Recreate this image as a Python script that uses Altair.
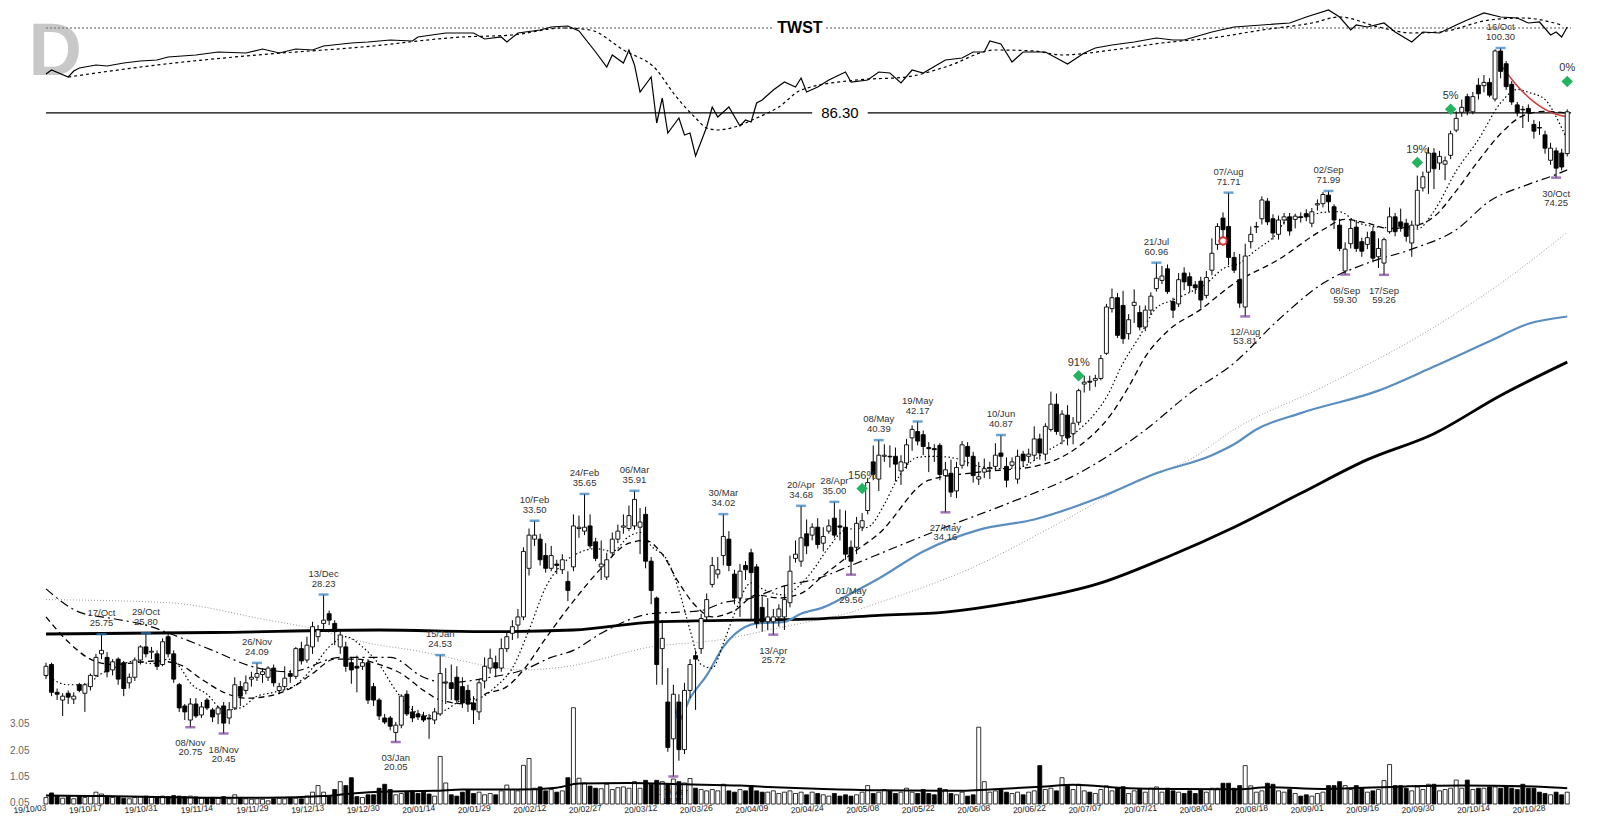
import altair as alt
import pandas as pd

# ---------------- daily candles (trading-day index 0 = 2019-10-03) ----------------
OPEN = [
    23.4, 24.0, 22.5, 22.1, 22.45, 22.15, 22.9, 22.45, 22.8, 23.4,
    24.6, 24.4, 23.7, 24.3, 24.1, 23.0, 23.3, 24.25, 25.0, 24.7,
    24.6, 24.0, 25.6, 24.6, 22.9, 21.8, 21.1, 21.9, 21.35, 22.1,
    21.6, 21.4, 21.8, 21.2, 21.7, 22.8, 22.6, 23.2, 23.3, 23.45,
    23.3, 23.8, 22.6, 22.8, 23.5, 23.35, 24.9, 24.25, 25.0, 25.6,
    26.4, 27.0, 26.4, 25.0, 25.0, 24.1, 23.9, 23.9, 24.1, 22.8,
    22.1, 21.2, 21.2, 20.5, 20.85, 22.4, 21.5, 21.4, 21.3, 21.2,
    21.1, 21.4, 23.0, 23.0, 23.3, 22.8, 22.6, 21.95, 21.5, 23.1,
    23.8, 24.1, 23.8, 24.9, 25.8, 26.3, 26.8, 30.0, 32.1, 32.1,
    30.9, 30.0, 30.3, 29.9, 29.1, 30.1, 32.9, 32.7, 33.1, 31.9,
    30.1, 29.4, 31.1, 32.1, 33.0, 32.9, 33.1, 33.0, 34.0, 30.5,
    28.0, 24.9, 22.0, 20.2, 22.0, 19.7, 22.6, 24.5, 24.9, 26.8,
    28.9, 29.6, 30.9, 32.1, 29.6, 28.0, 30.2, 31.1, 30.1, 27.4,
    26.5, 26.5, 26.8, 26.8, 27.7, 30.7, 30.5, 32.5, 32.4, 33.0,
    31.8, 32.7, 33.7, 33.1, 33.0, 31.5, 31.5, 33.0, 34.3, 38.4,
    36.9, 38.9, 38.9, 38.9, 37.6, 38.3, 40.6, 41.2, 40.9, 39.7,
    39.6, 39.9, 37.2, 37.4, 35.9, 38.1, 39.8, 38.9, 36.9, 37.5,
    37.8, 38.0, 39.2, 38.0, 38.1, 36.9, 39.1, 38.9, 39.0, 40.5,
    39.1, 41.4, 43.9, 40.8, 42.8, 41.0, 42.1, 46.0, 46.3, 46.4,
    46.6, 49.4, 54.8, 56.2, 55.2, 51.7, 55.2, 54.3, 52.5, 54.6,
    57.4, 58.5, 60.1, 55.7, 55.4, 59.5, 59.0, 57.9, 58.4, 56.5,
    59.9, 63.6, 67.6, 66.3, 61.7, 58.6, 55.0, 64.0, 66.2, 67.5,
    70.3, 67.5, 65.1, 67.3, 67.8, 67.4, 67.8, 68.3, 66.8, 69.7,
    69.9, 71.3, 69.4, 66.5, 59.8, 63.7, 66.2, 64.0, 63.6, 65.5,
    61.8, 60.9, 65.5, 67.8, 67.0, 66.8, 63.8, 66.5, 72.5, 75.2,
    78.6, 76.8, 76.6, 78.2, 82.9, 86.4, 89.6, 86.5, 92.0, 91.9,
    92.6, 89.1, 99.6, 96.7, 92.2, 87.9, 87.0, 87.2, 84.0, 83.4,
    82.0, 77.3, 79.0, 78.6, 78.5,
]
HIGH = [
    24.1, 24.1, 22.7, 22.45, 22.6, 22.5, 23.0, 23.0, 23.5, 24.6,
    25.75, 24.7, 24.3, 24.4, 24.2, 23.5, 24.4, 25.1, 25.8, 25.0,
    24.8, 25.5, 25.9, 24.8, 23.0, 21.9, 22.2, 22.2, 22.0, 22.2,
    21.7, 21.8, 22.0, 22.0, 23.3, 23.1, 23.4, 23.6, 24.09, 23.8,
    23.9, 24.0, 23.0, 23.9, 23.7, 25.0, 25.3, 25.6, 26.5, 26.3,
    28.23, 27.2, 26.6, 25.9, 25.3, 24.4, 24.5, 24.3, 24.3, 23.0,
    22.2, 21.4, 21.3, 21.0, 22.4, 22.6, 21.8, 21.6, 21.5, 21.4,
    21.7, 24.53, 23.8, 24.0, 23.9, 23.3, 22.9, 22.3, 23.2, 24.4,
    24.9, 24.5, 25.5, 25.9, 26.6, 27.3, 31.5, 32.9, 33.5, 32.5,
    31.8, 31.6, 30.6, 31.0, 29.8, 34.0, 33.9, 35.65, 34.0, 32.2,
    32.0, 31.1, 32.6, 33.2, 34.0, 34.7, 35.91, 34.5, 34.6, 30.8,
    28.1, 26.6, 23.8, 22.9, 22.4, 23.0, 24.3, 24.8, 27.0, 28.3,
    30.8, 30.8, 34.02, 32.7, 29.9, 30.3, 30.5, 31.4, 30.3, 28.1,
    28.0, 27.3, 27.6, 28.8, 30.9, 32.0, 34.68, 33.6, 33.3, 33.7,
    33.0, 33.6, 35.0, 34.4, 34.3, 32.0, 33.8, 34.1, 37.0, 39.9,
    40.39, 40.0, 39.9, 39.7, 39.0, 40.5, 41.8, 42.17, 41.3, 40.2,
    40.0, 40.1, 38.4, 38.6, 38.4, 40.3, 40.2, 39.3, 38.4, 38.7,
    38.4, 40.1, 40.87, 38.8, 38.8, 39.5, 39.4, 39.6, 41.7, 41.0,
    42.0, 45.2, 45.0, 43.3, 43.8, 42.6, 45.5, 46.9, 46.9, 47.0,
    49.2, 55.4, 57.4, 56.8, 57.1, 54.1, 57.3, 55.2, 55.2, 56.9,
    60.96, 60.5, 60.7, 56.2, 59.5, 60.3, 59.6, 58.4, 59.0, 59.8,
    64.5, 66.8, 68.5, 71.71, 62.5, 62.2, 63.7, 66.3, 67.0, 71.1,
    70.8, 68.2, 68.0, 68.4, 68.4, 68.3, 68.5, 69.0, 69.2, 70.6,
    71.8, 71.99, 69.8, 67.5, 63.9, 67.4, 67.3, 64.6, 65.5, 66.2,
    64.5, 64.6, 69.3, 68.4, 69.1, 67.5, 67.2, 74.6, 75.3, 79.7,
    79.5, 79.0, 78.0, 82.8, 86.6, 89.0, 90.2, 90.6, 93.5, 94.2,
    93.5, 100.0, 100.3, 97.3, 92.9, 88.5, 87.7, 88.0, 84.9, 84.6,
    82.8, 80.5, 79.6, 79.4, 87.0,
]
LOW = [
    23.2, 22.3, 22.1, 21.3, 21.9, 21.9, 22.5, 21.5, 22.6, 23.3,
    24.3, 23.3, 23.4, 22.9, 22.3, 22.7, 23.1, 24.0, 24.4, 24.3,
    23.7, 23.9, 24.4, 23.0, 21.5, 21.1, 20.75, 21.2, 21.2, 21.6,
    21.0, 20.9, 20.45, 20.9, 21.6, 21.8, 22.4, 22.8, 23.1, 23.0,
    23.1, 22.8, 22.4, 22.6, 23.0, 23.2, 24.0, 24.1, 24.6, 25.3,
    25.9, 26.3, 25.1, 24.6, 23.6, 22.95, 22.5, 23.7, 21.9, 21.8,
    21.1, 20.9, 20.6, 20.05, 20.7, 21.3, 21.0, 21.1, 21.0, 20.2,
    20.9, 21.3, 21.9, 22.1, 21.9, 21.7, 21.5, 20.9, 21.1, 22.7,
    23.5, 23.3, 23.6, 24.7, 25.4, 25.5, 26.6, 29.5, 31.6, 30.2,
    29.7, 29.8, 29.6, 29.6, 27.8, 29.8, 32.2, 32.4, 31.4, 30.5,
    29.2, 29.2, 30.8, 31.8, 32.5, 32.7, 32.8, 31.0, 30.0, 27.6,
    22.9, 22.9, 19.6, 18.5, 19.2, 19.5, 22.2, 21.6, 24.6, 26.5,
    28.7, 29.3, 30.2, 29.8, 27.6, 26.8, 29.2, 26.6, 26.1, 25.9,
    26.0, 25.72, 26.2, 26.0, 27.4, 30.4, 30.1, 31.0, 32.0, 31.4,
    31.2, 32.5, 32.2, 32.0, 30.6, 29.56, 31.0, 32.7, 34.0, 36.8,
    35.9, 38.4, 37.9, 36.7, 36.4, 37.8, 39.4, 39.9, 39.0, 37.5,
    38.4, 36.8, 34.16, 35.4, 35.3, 37.8, 38.0, 36.6, 36.4, 37.0,
    36.9, 37.6, 37.8, 36.2, 37.9, 36.5, 38.0, 38.3, 38.5, 38.6,
    38.5, 41.2, 40.9, 40.0, 39.9, 40.0, 41.8, 45.1, 45.3, 45.7,
    46.4, 49.2, 54.3, 51.2, 50.5, 51.0, 53.0, 52.1, 52.0, 54.0,
    57.0, 58.0, 56.7, 53.6, 55.0, 57.2, 56.9, 56.7, 54.8, 56.1,
    59.2, 62.8, 64.0, 60.6, 59.5, 54.9, 53.81, 63.0, 65.3, 66.6,
    66.5, 64.3, 64.3, 66.6, 64.9, 66.0, 66.9, 67.1, 66.2, 68.8,
    69.3, 68.6, 65.9, 62.6, 59.3, 63.0, 62.5, 61.8, 62.9, 61.0,
    60.2, 59.26, 65.2, 64.8, 65.5, 64.0, 61.8, 66.0, 71.9, 71.5,
    72.3, 75.6, 73.8, 77.5, 82.5, 85.5, 85.8, 86.0, 89.0, 90.5,
    89.5, 88.6, 93.5, 91.0, 87.9, 85.6, 83.3, 84.5, 81.3, 82.0,
    78.5, 76.5, 74.25, 75.5, 78.0,
]
CLOSE = [
    23.9, 22.5, 22.4, 22.3, 22.25, 22.3, 22.6, 22.9, 23.4, 24.4,
    24.8, 23.6, 24.15, 23.2, 22.7, 23.3, 24.25, 25.0, 24.6, 24.75,
    23.9, 25.3, 24.6, 23.2, 21.7, 21.5, 21.9, 21.3, 21.75, 21.7,
    21.25, 21.7, 20.95, 21.6, 22.9, 22.3, 23.0, 23.3, 23.5, 23.6,
    23.8, 23.0, 22.8, 23.25, 23.35, 24.9, 24.2, 25.1, 26.2, 26.0,
    26.6, 26.6, 25.9, 25.7, 23.9, 23.7, 23.8, 24.1, 22.1, 22.1,
    21.3, 21.0, 20.8, 20.85, 22.3, 21.4, 21.2, 21.25, 21.1, 21.15,
    21.5, 23.5, 23.05, 22.7, 22.1, 21.95, 21.9, 21.6, 23.0, 23.9,
    24.35, 23.8, 24.9, 25.6, 26.2, 26.8, 31.2, 32.4, 32.4, 30.6,
    30.0, 30.9, 30.2, 30.6, 28.5, 33.1, 33.0, 33.0, 31.6, 30.7,
    30.3, 30.6, 32.1, 32.7, 33.1, 33.9, 35.2, 33.4, 30.5, 28.5,
    24.0, 25.5, 19.8, 22.4, 19.7, 22.6, 24.0, 24.3, 26.7, 27.9,
    30.2, 29.9, 32.3, 30.2, 28.0, 29.8, 29.9, 29.7, 26.4, 26.5,
    26.8, 26.8, 27.3, 27.9, 29.8, 31.0, 32.2, 31.6, 33.0, 31.7,
    32.3, 33.1, 32.4, 33.0, 31.0, 30.5, 33.3, 33.5, 36.6, 37.3,
    39.0, 39.0, 38.85, 38.2, 38.4, 39.95, 41.4, 40.3, 39.8, 39.6,
    39.5, 37.3, 37.7, 35.8, 37.9, 39.95, 38.9, 37.2, 37.1, 37.8,
    37.9, 39.0, 38.9, 36.8, 38.4, 38.9, 38.5, 39.1, 40.5, 39.2,
    41.7, 43.9, 41.2, 42.9, 40.6, 42.0, 45.3, 46.2, 46.2, 46.6,
    48.8, 55.0, 56.2, 51.5, 51.1, 53.4, 55.6, 52.5, 54.6, 56.4,
    58.8, 59.1, 57.0, 54.6, 58.6, 58.3, 57.8, 57.5, 55.9, 58.9,
    62.3, 66.3, 65.8, 61.7, 59.9, 55.5, 61.9, 65.1, 66.3, 70.5,
    67.0, 65.3, 67.3, 67.8, 65.6, 67.9, 67.7, 67.8, 68.6, 69.9,
    71.4, 70.2, 67.3, 63.0, 62.9, 66.0, 63.0, 62.6, 64.6, 61.6,
    63.0, 64.3, 67.8, 65.5, 66.3, 64.8, 66.5, 72.1, 74.4, 78.6,
    75.8, 78.0, 77.2, 82.2, 85.2, 87.4, 86.6, 89.6, 90.2, 92.6,
    89.9, 99.6, 95.0, 91.7, 88.5, 86.3, 86.9, 86.3, 82.7, 83.3,
    79.5, 79.5, 75.9, 76.1, 86.5,
]
# volume, millions of shares
VOLUME = [
    0.25, 0.42, 0.3, 0.22, 0.3, 0.2, 0.32, 0.25, 0.3, 0.45,
    0.38, 0.3, 0.25, 0.28, 0.22, 0.2, 0.25, 0.28, 0.3, 0.25,
    0.25, 0.3, 0.28, 0.32, 0.3, 0.28, 0.3, 0.27, 0.22, 0.22,
    0.25, 0.22, 0.28, 0.2, 0.35, 0.22, 0.2, 0.18, 0.2, 0.18,
    0.12, 0.2, 0.22, 0.2, 0.25, 0.22, 0.2, 0.3, 0.45, 0.7,
    0.45, 0.3, 0.55, 0.85, 0.7, 1.0, 0.28, 0.25, 0.35, 0.35,
    0.6, 0.75, 0.55, 0.35, 0.4, 0.45, 0.5, 0.4, 0.45, 0.38,
    0.3, 1.81, 0.8, 0.35, 0.3, 0.45, 0.55, 0.4, 0.45, 0.35,
    0.4, 0.35, 0.5, 0.72, 0.55, 0.5, 1.47, 1.73, 0.6, 0.65,
    0.5, 0.55, 0.45, 0.5, 1.0, 3.66, 0.98, 0.8, 0.68, 0.6,
    0.58, 0.75, 0.55, 0.62, 0.65, 0.6, 0.85, 0.6, 0.9, 0.75,
    0.9, 0.85, 0.75, 0.95, 0.85, 0.8, 0.97, 0.6, 0.55, 0.5,
    0.55, 0.5, 0.75, 0.5, 0.45, 0.55, 0.5, 0.7, 0.5, 0.45,
    0.45, 0.5, 0.4, 0.45, 0.5, 0.4, 0.45, 0.35, 0.45, 0.4,
    0.35, 0.3, 0.4, 0.3, 0.35, 0.3, 0.35, 0.45, 0.7, 0.4,
    0.45, 0.55, 0.5, 0.4, 0.45, 0.6, 0.45, 0.4, 0.55, 0.4,
    0.35, 0.6, 0.55, 0.4, 0.35, 0.45, 0.3, 0.35, 2.92, 0.85,
    0.45, 0.5, 0.55, 0.45, 0.4, 0.45, 0.35, 0.45, 0.5, 1.46,
    0.55, 0.6, 0.5, 1.0, 0.7, 0.55, 0.75, 0.5, 0.45, 0.4,
    0.55, 0.69, 0.5, 0.6, 0.66, 0.4, 0.5, 0.55, 0.45, 0.6,
    0.65, 0.45, 0.6, 0.5, 0.45, 0.4, 0.5, 0.4, 0.55, 0.45,
    0.6, 0.6, 0.79, 0.79, 0.6, 0.7, 1.46, 0.69, 0.45, 0.5,
    0.79, 0.75, 0.5, 0.45, 0.55, 0.4, 0.3, 0.35, 0.3, 0.4,
    0.45, 0.7, 0.7, 0.85, 0.7, 0.55, 0.7, 0.6, 0.45, 0.5,
    0.55, 0.89, 1.5, 0.7, 0.7, 0.6, 0.5, 0.65, 0.55, 0.75,
    0.75, 0.5, 0.55, 0.6, 0.91, 0.6, 0.91, 0.55, 0.6, 0.6,
    0.65, 0.65, 0.6, 0.65, 0.6, 0.55, 0.75, 0.6, 0.6, 0.45,
    0.4, 0.35, 0.45, 0.35, 0.45,
]

TICK_LABELS = [
    "19/10/03", "19/10/17", "19/10/31", "19/11/14", "19/11/29", "19/12/13", "19/12/30",
    "20/01/14", "20/01/29", "20/02/12", "20/02/27", "20/03/12", "20/03/26", "20/04/09",
    "20/04/24", "20/05/08", "20/05/22", "20/06/08", "20/06/22", "20/07/07", "20/07/21",
    "20/08/04", "20/08/18", "20/09/01", "20/09/16", "20/09/30", "20/10/14", "20/10/28",
]

# ---------------- moving averages (index, value) ----------------
MA10_I = [0, 4, 7, 10, 13, 16, 19, 22, 24, 26, 29, 32, 35, 38, 41, 45, 48, 51, 54, 57,
          60, 63, 66, 69, 72, 75, 78, 81, 84, 87, 90, 93, 96, 99, 102, 105, 107, 109, 112, 114,
          116, 118, 120, 122, 124, 127, 129, 133, 135, 138, 141, 144, 148, 151, 153, 157, 160, 164, 168, 172,
          176, 180, 183, 186, 189, 191, 194, 197, 200, 203, 206, 209, 212, 215, 218, 221, 224, 227, 230, 233,
          236, 240, 244, 247, 250, 254, 258, 262, 265, 267, 270, 272, 274]
MA10_V = [23.4, 22.9, 22.9, 23.5, 23.9, 24.2, 24.05, 24.3, 23.9, 23.0, 22.4, 21.6, 21.7, 22.3, 22.5, 22.9, 23.8, 25.0, 25.6, 25.0,
          24.0, 22.6, 21.6, 21.3, 21.6, 22.1, 22.2, 22.8, 23.8, 26.0, 28.7, 30.3, 31.1, 31.4, 31.2, 32.3, 32.6, 31.6, 30.5, 28.5,
          26.0, 24.0, 23.8, 25.2, 27.0, 29.0, 28.6, 28.2, 28.6, 29.8, 31.5, 32.8, 33.0, 34.8, 36.6, 38.8, 38.9, 38.7, 38.0, 37.8,
          38.0, 39.3, 40.2, 41.35, 43.0, 44.6, 48.3, 51.4, 54.9, 55.9, 56.9, 58.1, 60.1, 60.9, 62.8, 64.6, 67.6, 67.8, 68.5, 68.6,
          67.0, 66.2, 66.0, 65.9, 68.7, 75.4, 81.1, 88.3, 91.1, 90.5, 89.0, 85.5, 81.0]
MA21_I = [0, 4, 8, 12, 16, 20, 24, 28, 32, 36, 40, 44, 48, 52, 56, 60, 64, 68, 71, 76,
          79, 83, 86, 90, 95, 100, 105, 108, 111, 114, 117, 120, 124, 128, 132, 136, 140, 145, 150, 159,
          168, 178, 186, 192, 195, 198, 202, 208, 214, 222, 230, 234, 238, 242, 246, 250, 254, 258, 262, 266,
          270, 274]
MA21_V = [26.8, 25.3, 24.3, 24.0, 24.1, 24.2, 24.0, 23.2, 22.5, 22.2, 22.3, 22.7, 23.5, 24.3, 24.3, 24.0, 23.5, 22.6, 22.1, 21.9,
          22.4, 22.8, 23.7, 25.5, 27.8, 30.0, 31.8, 32.0, 31.0, 29.0, 27.5, 26.8, 27.2, 28.2, 28.0, 28.3, 29.5, 31.0, 32.5, 36.8,
          37.5, 38.0, 39.8, 43.0, 45.7, 49.0, 52.0, 54.7, 58.1, 61.4, 65.8, 67.4, 66.8, 66.0, 66.3, 67.8, 72.0, 77.2, 82.2, 85.7,
          86.6, 86.2]
MA50_I = [0, 6, 12, 18, 23, 30, 37, 44, 53, 62, 68, 72, 80, 86, 91, 95, 100, 109, 114, 118,
          122, 127, 133, 139, 145, 153, 162, 174, 186, 198, 206, 214, 222, 230, 238, 246, 254, 260, 267, 272, 274]
MA50_V = [28.6, 27.1, 26.7, 26.3, 25.7, 24.8, 23.9, 23.6, 24.4, 24.4, 23.3, 23.0, 23.3, 23.7, 24.4, 24.8, 25.8, 27.0, 27.1, 27.2,
          27.7, 28.0, 28.8, 29.3, 30.2, 31.5, 33.0, 35.0, 37.4, 41.35, 45.0, 48.3, 53.4, 58.1, 60.9, 62.9, 65.8, 70.3, 73.1, 74.8, 75.6]
MA150_I = [0, 22, 40, 48, 57, 68, 80, 86, 94, 109, 121, 133, 145, 150, 166, 182, 198, 206, 214, 230, 246, 262, 274]
MA150_V = [27.9, 27.7, 26.6, 26.1, 25.3, 24.7, 23.9, 23.7, 23.9, 25.0, 25.4, 26.2, 27.1, 27.7, 29.9, 33.2, 37.1, 38.6, 41.4, 45.7, 50.9, 58.1, 65.4]
BLUE_I = [113, 114, 116, 119, 122, 126, 128, 133, 136, 140, 145, 150, 158, 168, 178, 190, 200, 210, 214, 218, 226, 240, 250, 260, 267, 274]
BLUE_V = [22.2, 21.1, 22.2, 23.4, 25.0, 26.2, 26.4, 26.5, 27.0, 27.4, 28.3, 29.3, 31.2, 32.8, 33.6, 35.4, 37.4, 39.0, 40.0, 41.4, 43.0, 45.3, 47.9, 50.8, 52.9, 53.8]
MA200_I = [0, 30, 60, 80, 95, 110, 125, 140, 150, 162, 174, 190, 202, 214, 226, 238, 250, 262, 274]
MA200_V = [25.76, 25.85, 26.0, 25.9, 26.0, 26.5, 26.6, 26.7, 26.9, 27.1, 27.7, 29.0, 30.8, 33.0, 35.7, 38.6, 41.0, 44.8, 48.4]
RED_I = [262, 264, 266, 268, 270, 272, 274]
RED_V = [96.5, 93.3, 90.6, 88.5, 87.0, 86.0, 85.5]
VMA_I = [0, 10, 20, 30, 40, 50, 55, 60, 70, 75, 85, 92, 96, 105, 115, 125, 130, 140, 150, 165,
         170, 180, 185, 195, 205, 215, 220, 230, 245, 255, 270, 274]
VMA_V = [0.32, 0.30, 0.27, 0.24, 0.24, 0.30, 0.40, 0.47, 0.50, 0.55, 0.55, 0.62, 0.78, 0.80, 0.75, 0.70, 0.65, 0.57, 0.52, 0.50,
         0.55, 0.67, 0.73, 0.60, 0.57, 0.56, 0.64, 0.57, 0.67, 0.70, 0.65, 0.60]

# ---------------- relative-strength line (top panel) ----------------
RS_I = [0, 1, 4, 5, 6, 9, 11, 14, 17, 20, 22, 27, 31, 36, 39, 42, 45, 48, 50, 55,
        58, 62, 66, 67, 72, 77, 79, 82, 83, 85, 89, 91, 94, 96, 99, 101, 102, 104, 105, 106,
        107, 109, 110, 111, 112, 114, 115, 116, 117, 119, 120, 121, 123, 125, 126, 127, 128, 129, 131, 133,
        135, 136, 137, 139, 141, 144, 145, 148, 150, 152, 154, 156, 158, 162, 165, 167, 169, 170, 172, 174,
        176, 180, 182, 184, 187, 189, 192, 196, 200, 203, 205, 210, 214, 219, 224, 227, 231, 233, 235, 236,
        238, 241, 243, 246, 248, 251, 254, 256, 259, 262, 265, 267, 269, 271, 272, 273, 274]
RS_V = [0.816, 0.832, 0.804, 0.828, 0.84, 0.852, 0.848, 0.86, 0.868, 0.872, 0.884, 0.892, 0.904, 0.9, 0.916, 0.9, 0.916, 0.912, 0.928, 0.94,
        0.944, 0.952, 0.948, 0.964, 0.98, 0.98, 0.956, 0.964, 0.944, 0.98, 0.992, 1.004, 1.008, 0.988, 0.904, 0.844, 0.892, 0.86, 0.912, 0.852,
        0.744, 0.804, 0.62, 0.72, 0.58, 0.64, 0.572, 0.58, 0.488, 0.604, 0.684, 0.644, 0.684, 0.608, 0.632, 0.624, 0.7, 0.712, 0.752, 0.784,
        0.764, 0.8, 0.744, 0.764, 0.792, 0.824, 0.784, 0.792, 0.824, 0.82, 0.78, 0.832, 0.82, 0.872, 0.88, 0.904, 0.904, 0.948, 0.936, 0.864,
        0.904, 0.904, 0.88, 0.856, 0.9, 0.92, 0.932, 0.944, 0.96, 0.952, 0.952, 0.984, 1.004, 1.012, 1.02, 1.044, 1.072, 1.044, 0.992, 1.012,
        1.004, 1.02, 0.984, 0.944, 0.984, 0.98, 1.012, 1.032, 1.06, 1.044, 1.04, 1.02, 1.024, 0.972, 0.984, 0.964, 1.004]
RSMA_I = [4, 20, 38, 57, 75, 84, 93, 98, 104, 110, 113, 117, 119, 121, 124, 128, 132, 136, 146, 155,
          162, 171, 178, 183, 192, 201, 210, 219, 228, 233, 240, 246, 251, 260, 266, 273]
RSMA_V = [0.804, 0.852, 0.892, 0.924, 0.964, 0.972, 1.0, 0.992, 0.912, 0.832, 0.74, 0.64, 0.6, 0.592, 0.604, 0.64, 0.684, 0.752, 0.792, 0.804,
          0.844, 0.912, 0.908, 0.892, 0.912, 0.94, 0.96, 0.992, 1.02, 1.044, 1.004, 0.98, 0.984, 1.032, 1.04, 1.012]

# ---------------- annotations ----------------
HI_I = [10, 18, 38, 50, 71, 88, 97, 106, 122, 136, 142, 150, 157, 172, 200, 213, 231, 262]
HI_P = [25.75, 25.80, 24.09, 28.23, 24.53, 33.50, 35.65, 35.91, 34.02, 34.68, 35.00, 40.39, 42.17, 40.87, 60.96, 71.71, 71.99, 100.30]
HI_D = ["17/Oct", "29/Oct", "26/Nov", "13/Dec", "15/Jan", "10/Feb", "24/Feb", "06/Mar", "30/Mar", "20/Apr", "28/Apr",
        "08/May", "19/May", "10/Jun", "21/Jul", "07/Aug", "02/Sep", "16/Oct"]
LO_I = [26, 32, 63, 113, 131, 145, 162, 216, 234, 241, 272]
LO_P = [20.75, 20.45, 20.05, 18.51, 25.72, 29.56, 34.16, 53.81, 59.30, 59.26, 74.25]
LO_D = ["08/Nov", "18/Nov", "03/Jan", "17/Mar", "13/Apr", "01/May", "27/May", "12/Aug", "08/Sep", "17/Sep", "30/Oct"]
DI_I = [147, 186, 247, 253, 274]
DI_P = [36.1, 46.9, 76.9, 87.0, 92.8]
DI_T = ["156%", "91%", "19%", "5%", "0%"]
LEVEL = 86.30
CIRCLE_I = [212]
CIRCLE_P = [64.1]

# ---------------- build ----------------
N = len(CLOSE)
bars = pd.DataFrame({"i": list(range(N)), "open": OPEN, "high": HIGH, "low": LOW,
                     "close": CLOSE, "vol": VOLUME})
bars["v0"] = 0.0

W, H = 1549, 796
FONT = "Liberation Sans"
XS = alt.Scale(domain=[-0.9, 276.3], nice=False, zero=False)
lab_js = "[" + ",".join("'%s'" % s for s in TICK_LABELS) + "]"
XAX = alt.Axis(values=list(range(0, 271, 10)), labelExpr=lab_js + "[round(datum.value/10)]",
               title=None, domain=False, ticks=False, grid=False, labelAngle=-5,
               labelAlign="right", labelBaseline="middle", labelPadding=3, labelFontSize=8.5,
               labelColor="#222", labelFont=FONT, labelOverlap=False, labelBound=False,
               labelFlush=False)
PS = alt.Scale(type="log", domain=[17.365, 110.05], nice=False, zero=False)
VS = alt.Scale(domain=[0, 30.27], nice=False, zero=False)
RSS = alt.Scale(domain=[-2.104, 1.08], nice=False, zero=False)
VAX = alt.Axis(values=[0.05, 1.05, 2.05, 3.05], format=".2f", orient="left", title=None,
               domain=False, ticks=False, tickSize=0, grid=False, labelPadding=7,
               labelFontSize=10, labelColor="#666", labelFont=FONT, minExtent=28, maxExtent=28)


def xe():
    return alt.X("i:Q", scale=XS, axis=XAX)


def yp(f):
    return alt.Y(f + ":Q", scale=PS, axis=None)


def yr(f):
    return alt.Y(f + ":Q", scale=RSS, axis=None)


def ser(I, V):
    return pd.DataFrame({"i": I, "v": V})


def pline(I, V, **kw):
    return alt.Chart(ser(I, V)).mark_line(**kw).encode(x=xe(), y=yp("v"))


UPFILL = alt.condition("datum.close >= datum.open", alt.value("white"), alt.value("black"))

layers = []

# big "D"
layers.append(alt.Chart(pd.DataFrame({"i": [-3.15], "v": [0.812]})).mark_text(
    text="D", fontSize=74, fontWeight="bold", font=FONT, color="#c8c8c8",
    align="left", baseline="alphabetic").encode(x=xe(), y=yr("v")))

# moving averages
layers.append(pline(MA150_I, MA150_V, color="#9a9a9a", strokeWidth=1, strokeDash=[1, 2], interpolate="monotone"))
layers.append(pline(MA200_I, MA200_V, color="black", strokeWidth=2.8, interpolate="monotone"))
layers.append(pline(BLUE_I, BLUE_V, color="#5a8ec0", strokeWidth=2.2, interpolate="monotone"))
layers.append(pline(MA50_I, MA50_V, color="black", strokeWidth=1.2, strokeDash=[9, 4, 2, 4], interpolate="monotone"))
layers.append(pline(MA21_I, MA21_V, color="black", strokeWidth=1.3, strokeDash=[6, 4], interpolate="monotone"))
layers.append(pline(MA10_I, MA10_V, color="black", strokeWidth=1.2, strokeDash=[1.5, 2.5], interpolate="monotone"))

# 86.30 level line with a gap for its label
lvl = pd.DataFrame({"i": [0, 148], "i2": [138, 274.7], "v": [LEVEL, LEVEL]})
layers.append(alt.Chart(lvl).mark_rule(color="black", strokeWidth=1.3).encode(
    x=xe(), x2="i2:Q", y=yp("v")))
layers.append(alt.Chart(pd.DataFrame({"i": [143], "v": [LEVEL], "t": ["86.30"]})).mark_text(
    fontSize=15, font=FONT, color="black").encode(x=xe(), y=yp("v"), text="t:N"))
layers.append(pline(RED_I, RED_V, color="#d03a3a", strokeWidth=1.5, interpolate="monotone"))

# candles
layers.append(alt.Chart(bars).mark_rule(color="black", strokeWidth=1).encode(
    x=xe(), y=yp("low"), y2="high:Q"))
layers.append(alt.Chart(bars).mark_bar(size=4, stroke="black", strokeWidth=0.9, orient="vertical").encode(
    x=xe(), y=yp("open"), y2="close:Q", fill=UPFILL))

# high / low markers and labels
hi = pd.DataFrame({"i": HI_I, "v": HI_P, "d": HI_D, "p": ["%.2f" % p for p in HI_P]})
lo = pd.DataFrame({"i": LO_I, "v": LO_P, "d": LO_D, "p": ["%.2f" % p for p in LO_P]})
layers.append(alt.Chart(hi).mark_tick(orient="horizontal", size=10, thickness=2.5, color="#2d7fc0").encode(x=xe(), y=yp("v")))
layers.append(alt.Chart(lo).mark_tick(orient="horizontal", size=10, thickness=2.5, color="#7b3d9d").encode(x=xe(), y=yp("v")))
for df_, dy1, dy2 in ((hi, -21, -11), (lo, 16, 25)):
    layers.append(alt.Chart(df_).mark_text(dy=dy1, fontSize=9.5, font=FONT, color="#333").encode(
        x=xe(), y=yp("v"), text="d:N"))
    layers.append(alt.Chart(df_).mark_text(dy=dy2, fontSize=9.5, font=FONT, color="#333").encode(
        x=xe(), y=yp("v"), text="p:N"))

# green diamonds with percentages
dia = pd.DataFrame({"i": DI_I, "v": DI_P, "t": DI_T})
layers.append(alt.Chart(dia).mark_point(shape="diamond", filled=True, size=130, color="#22b35e", opacity=1).encode(
    x=xe(), y=yp("v")))
layers.append(alt.Chart(dia).mark_text(dy=-13, fontSize=11, font=FONT, color="#333").encode(
    x=xe(), y=yp("v"), text="t:N"))
layers.append(alt.Chart(ser(CIRCLE_I, CIRCLE_P)).mark_point(shape="circle", size=55, filled=True, fill="white",
                                                           stroke="#e0282e", strokeWidth=2, opacity=1).encode(
    x=xe(), y=yp("v")))

# volume
layers.append(alt.Chart(bars).mark_bar(size=4, stroke="black", strokeWidth=0.8, orient="vertical").encode(
    x=xe(), y=alt.Y("vol:Q", scale=VS, axis=VAX), y2="v0:Q", fill=UPFILL))
layers.append(alt.Chart(ser(VMA_I, VMA_V)).mark_line(color="black", strokeWidth=2, interpolate="monotone").encode(
    x=xe(), y=alt.Y("v:Q", scale=VS, axis=None)))

# relative strength panel
top = pd.DataFrame({"i": [0, 140.5], "i2": [131, 274.7], "v": [1.0, 1.0]})
layers.append(alt.Chart(top).mark_rule(color="#8a8a8a", strokeWidth=1.6, strokeDash=[2, 2]).encode(
    x=xe(), x2="i2:Q", y=yr("v")))
layers.append(alt.Chart(ser(RSMA_I, RSMA_V)).mark_line(color="black", strokeWidth=1.2, strokeDash=[3, 3],
                                                      interpolate="monotone").encode(x=xe(), y=yr("v")))
layers.append(alt.Chart(ser(RS_I, RS_V)).mark_line(color="black", strokeWidth=1.2).encode(x=xe(), y=yr("v")))
layers.append(alt.Chart(pd.DataFrame({"i": [135.8], "v": [1.0], "t": ["TWST"]})).mark_text(
    fontSize=16, fontWeight="bold", font=FONT, color="black").encode(x=xe(), y=yr("v"), text="t:N"))

chart = alt.layer(*layers).resolve_scale(y="independent").properties(
    width=W, height=H,
    autosize=alt.AutoSizeParams(type="none"),
    padding={"left": 28, "top": 0, "right": 7, "bottom": 11},
    background="white",
).configure_view(stroke=None)

chart.save("out.html", embed_options={"renderer": "svg", "actions": False})
